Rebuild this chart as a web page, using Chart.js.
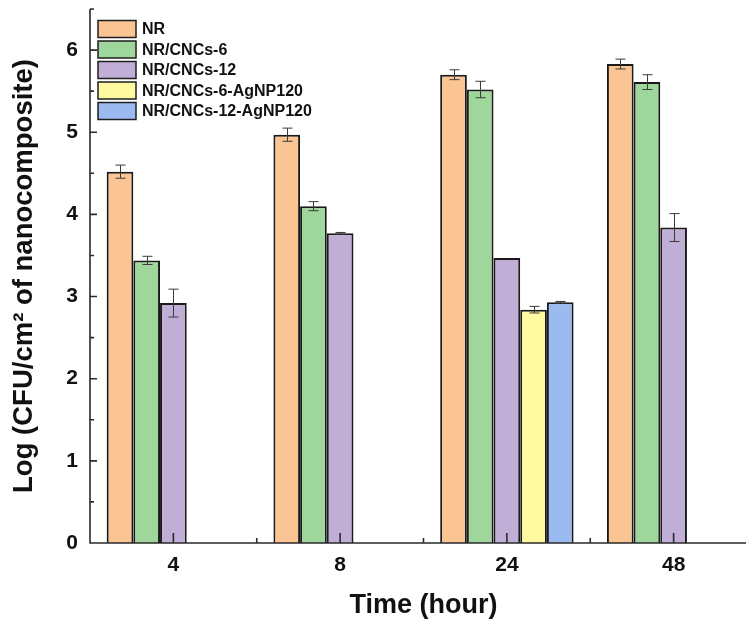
<!DOCTYPE html>
<html>
<head>
<meta charset="utf-8">
<script src="https://cdn.jsdelivr.net/npm/chart.js@4.4.0/dist/chart.umd.min.js"></script>
<style>
html,body{margin:0;padding:0;background:#fff;overflow:hidden;width:746px;height:627px;}
#wrap{width:775px;height:627px;}
</style>
</head>
<body>
<div id="wrap"><canvas id="c" width="775" height="627"></canvas></div>
<script>
const categories = ['4', '8', '24', '48'];
const seriesNames = ['NR', 'NR/CNCs-6', 'NR/CNCs-12', 'NR/CNCs-6-AgNP120', 'NR/CNCs-12-AgNP120'];
const nrValues = [4.52, 4.97, 5.70, 5.83];
const nrErrors = [0.08, 0.08, 0.06, 0.06];
const cnc6Values = [3.44, 4.10, 5.52, 5.61];
const cnc6Errors = [0.05, 0.055, 0.10, 0.09];
const cnc12Values = [2.92, 3.77, 3.47, 3.84];
const cnc12Errors = [0.17, 0.01, 0, 0.17];
const ag6Values = [null, null, 2.84, null];
const ag6Errors = [null, null, 0.04, null];
const ag12Values = [null, null, 2.93, null];
const ag12Errors = [null, null, 0.01, null];
const yTickValues = [0, 1, 2, 3, 4, 5, 6];

const colors = ['#FBC593', '#9ED69B', '#C0AED7', '#FFF9A0', '#9BBAF0'];
const valueSets = [nrValues, cnc6Values, cnc12Values, ag6Values, ag12Values];
const errorSets = [nrErrors, cnc6Errors, cnc12Errors, ag6Errors, ag12Errors];

const FONT = '"Liberation Sans", Arial, sans-serif';

const datasets = seriesNames.map((name, i) => ({
  label: name,
  data: valueSets[i],
  errors: errorSets[i],
  backgroundColor: colors[i],
  borderColor: '#1a1a1a',
  borderWidth: 2,
  borderSkipped: 'bottom',
  categoryPercentage: 0.8,
  barPercentage: 1.0
}));

const extras = {
  id: 'extras',
  afterDatasetsDraw(chart) {
    const ctx = chart.ctx;
    const y = chart.scales.y, x = chart.scales.x;
    // error bars
    ctx.save();
    ctx.strokeStyle = '#3a3a3a';
    ctx.lineWidth = 1;
    chart.data.datasets.forEach((ds, di) => {
      const meta = chart.getDatasetMeta(di);
      meta.data.forEach((bar, i) => {
        const v = ds.data[i], e = ds.errors[i];
        if (v == null || e == null || e === 0) return;
        const cx = Math.round(bar.x) + 0.5;
        const yt = y.getPixelForValue(v + e), yb = y.getPixelForValue(v - e);
        ctx.beginPath();
        ctx.moveTo(cx, yt); ctx.lineTo(cx, yb);
        ctx.moveTo(cx - 5, yt); ctx.lineTo(cx + 5, yt);
        ctx.moveTo(cx - 5, yb); ctx.lineTo(cx + 5, yb);
        ctx.stroke();
      });
    });
    ctx.restore();

    // axes lines and inward ticks
    const ca = chart.chartArea;
    ctx.save();
    ctx.strokeStyle = '#2a2a2a';
    ctx.lineWidth = 1.6;
    ctx.beginPath();
    ctx.moveTo(ca.left, ca.top); ctx.lineTo(ca.left, ca.bottom);
    ctx.lineTo(ca.right, ca.bottom);
    for (let v = 0; v <= 6.5 + 1e-9; v += 0.5) {
      const py = y.getPixelForValue(v);
      const major = Math.abs(v - Math.round(v)) < 1e-9;
      ctx.moveTo(ca.left, py); ctx.lineTo(ca.left + (major ? 7 : 4), py);
    }
    const half = (x.getPixelForValue(1) - x.getPixelForValue(0)) / 2;
    categories.forEach((c, i) => {
      const px = x.getPixelForValue(i);
      ctx.moveTo(px, ca.bottom); ctx.lineTo(px, ca.bottom - 10);
      ctx.moveTo(px + half, ca.bottom); ctx.lineTo(px + half, ca.bottom - 5);
    });
    ctx.stroke();
    ctx.restore();

    // legend
    ctx.save();
    const lx = ca.left + 8, ly0 = 29, step = 20.5;
    ctx.font = 'bold 16px ' + FONT;
    ctx.textBaseline = 'middle';
    ctx.textAlign = 'left';
    chart.data.datasets.forEach((ds, i) => {
      const cy = ly0 + i * step;
      ctx.fillStyle = ds.backgroundColor;
      ctx.fillRect(lx, cy - 8.5, 38, 17);
      ctx.strokeStyle = '#1e1e1e';
      ctx.lineWidth = 1.5;
      ctx.strokeRect(lx, cy - 8.5, 38, 17);
      ctx.fillStyle = '#111';
      ctx.fillText(ds.label, lx + 44, cy + 1);
    });
    ctx.restore();
  }
};

new Chart(document.getElementById('c'), {
  type: 'bar',
  data: { labels: categories, datasets },
  options: {
    responsive: false,
    animation: false,
    layout: { padding: { top: 9, right: 18, left: 0, bottom: 0 } },
    plugins: { legend: { display: false }, tooltip: { enabled: false } },
    scales: {
      x: {
        grid: { display: false, drawTicks: false },
        border: { display: false },
        ticks: { color: '#111', font: { family: FONT, size: 21, weight: 'bold' }, padding: 10, maxRotation: 0 },
        title: { display: true, text: 'Time (hour)', color: '#111', font: { family: FONT, size: 27, weight: 'bold' }, padding: { top: 0, bottom: 5 } },
        afterFit(s) { s.height = 84; s.paddingLeft = 0; s.paddingRight = 0; }
      },
      y: {
        min: 0, max: 6.5,
        grid: { display: false, drawTicks: false },
        border: { display: false },
        afterBuildTicks(s) { s.ticks = yTickValues.map(v => ({ value: v })); },
        ticks: { color: '#111', font: { family: FONT, size: 21, weight: 'bold' }, padding: 12 },
        title: { display: true, text: 'Log (CFU/cm² of nanocomposite)', color: '#111', font: { family: FONT, size: 27.5, weight: 'bold' }, padding: { top: 8, bottom: 0 } },
        afterFit(s) { s.width = 90; s.paddingTop = 0; s.paddingBottom = 0; }
      }
    }
  },
  plugins: [extras]
});
</script>
</body>
</html>
